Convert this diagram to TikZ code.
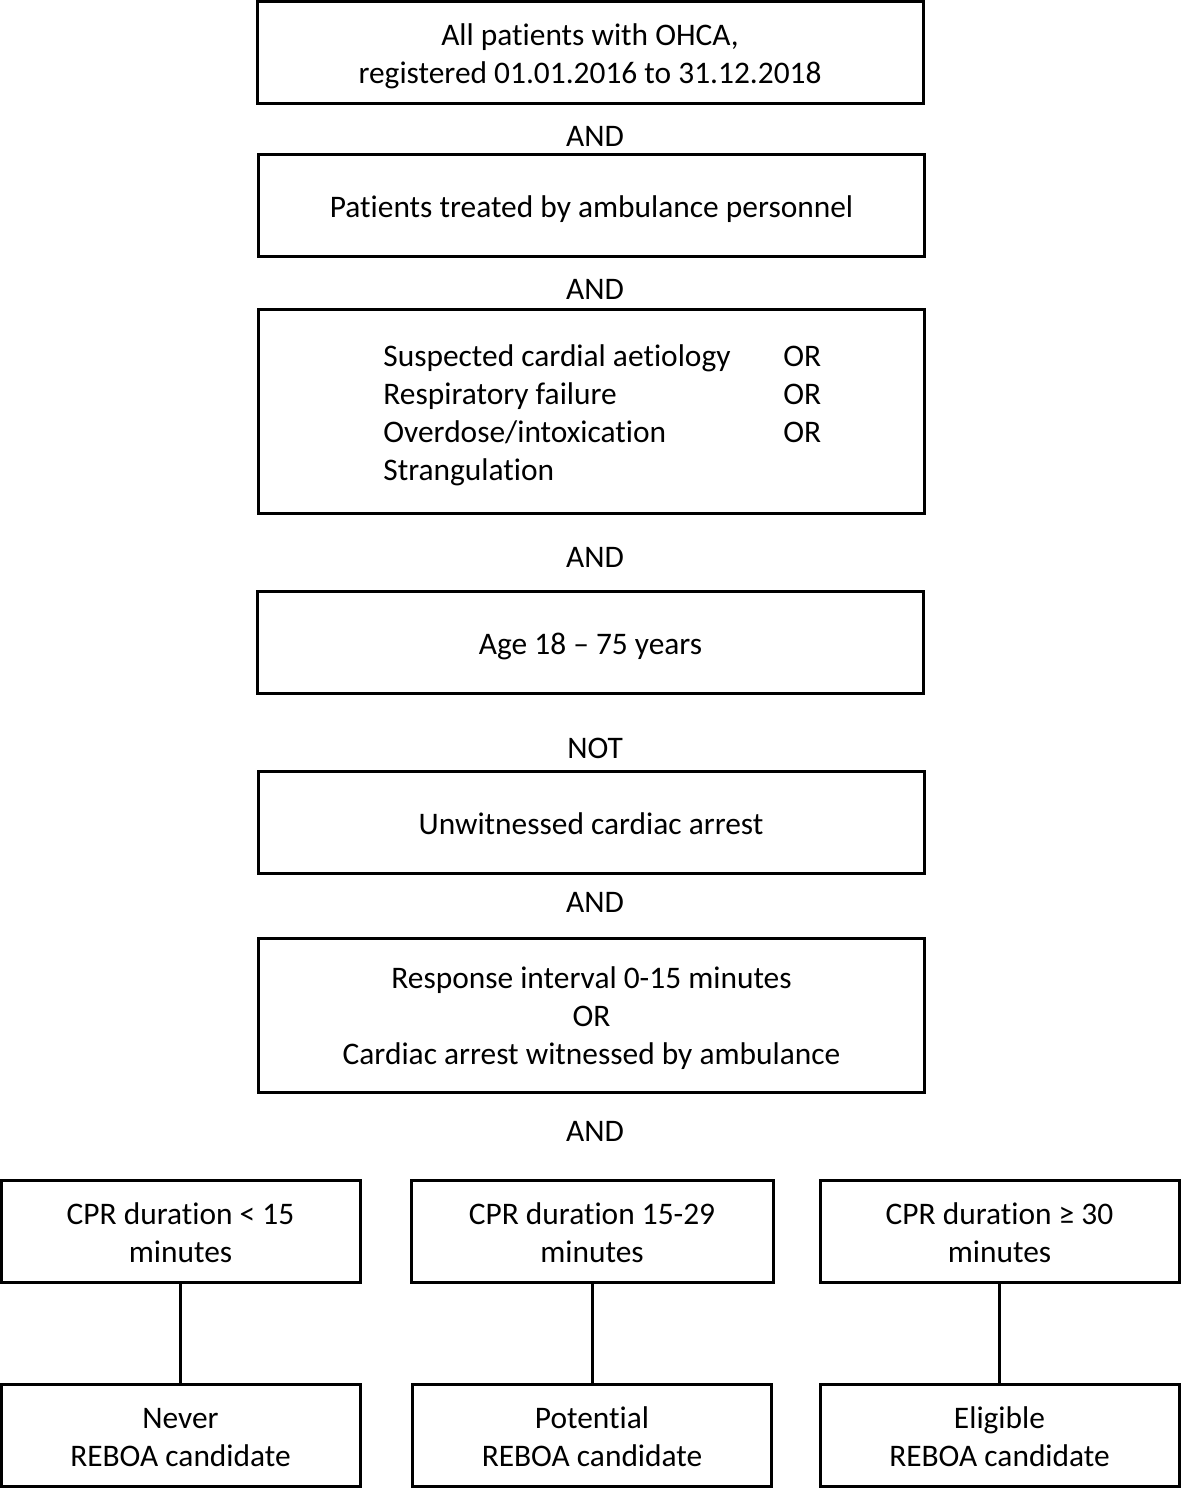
\documentclass[tikz,border=0pt]{standalone}
\usepackage{fontspec}
\setmainfont{Carlito}[Ligatures=CommonOff]
\usepackage{tikz}
\usetikzlibrary{positioning}

% text block with fixed line struts, so every box centres its text alike
\newcommand{\btext}[1]{{\setbox\strutbox\hbox{\vrule height 15.3pt depth 3.7pt width 0pt}%
  \begin{tabular}{@{}c@{}}#1\end{tabular}}}

\begin{document}
\begin{tikzpicture}[
  x=0.5pt, y=-0.5pt,
  font=\fontsize{15.7}{19}\selectfont,
  box/.style={draw,line width=1.5pt,inner sep=0pt,outer sep=0pt,minimum width=333pt,minimum height=51pt},
  lowbox/.style={box,minimum width=179.5pt},
  gate/.style={inner sep=0pt,anchor=center},
  link/.style={line width=1.5pt}
]
\useasboundingbox (0,0) rectangle (1181,1491);

\node[box] (all) at (590,52.5) {\btext{All patients with OHCA,\\registered 01.01.2016 to 31.12.2018}};
\node[gate] (and1) at (595,136) {AND};
\node[box] (amb) at (591.5,206) {\btext{Patients treated by ambulance personnel}};
\node[gate] (and2) at (595,289) {AND};
\node[box,minimum height=102pt] (cause) at (591,412) {};
\node[anchor=west,inner sep=0pt] (crit) at (383,416) {%
  \begin{tabular}{@{}p{200pt}@{}l@{}}
  Suspected cardial aetiology & OR\\
  Respiratory failure & OR\\
  Overdose/intoxication & OR\\
  Strangulation &
  \end{tabular}};
\node[gate] (and3) at (595,557) {AND};
\node[box] (age) at (590.5,642.5) {\btext{Age 18 – 75 years}};
\node[gate] (not) at (595,748) {NOT};
\node[box] (unw) at (591,822.5) {\btext{Unwitnessed cardiac arrest}};
\node[gate] (and5) at (595,902) {AND};
\node[box,minimum height=77pt] (resp) at (591.5,1015) {\btext{Response interval 0-15 minutes\\OR\\Cardiac arrest witnessed by ambulance}};
\node[gate] (and6) at (595,1131) {AND};

% CPR duration groups
\node[lowbox] (cprA) at (180.5,1231.5) {\btext{CPR duration < 15\\minutes}};
\node[lowbox,minimum width=181pt] (cprB) at (592,1231.5) {\btext{CPR duration 15-29\\minutes}};
\node[lowbox] (cprC) at (999.5,1231.5) {\btext{CPR duration ≥ 30\\minutes}};

\node[lowbox,below=51pt of cprA] (never) {\btext{Never\\REBOA candidate}};
\node[lowbox,below=51pt of cprB] (pot) {\btext{Potential\\REBOA candidate}};
\node[lowbox,below=51pt of cprC] (elig) {\btext{Eligible\\REBOA candidate}};

\draw[link] (cprA) -- (never);
\draw[link] (cprB) -- (pot);
\draw[link] (cprC) -- (elig);
\end{tikzpicture}
\end{document}
